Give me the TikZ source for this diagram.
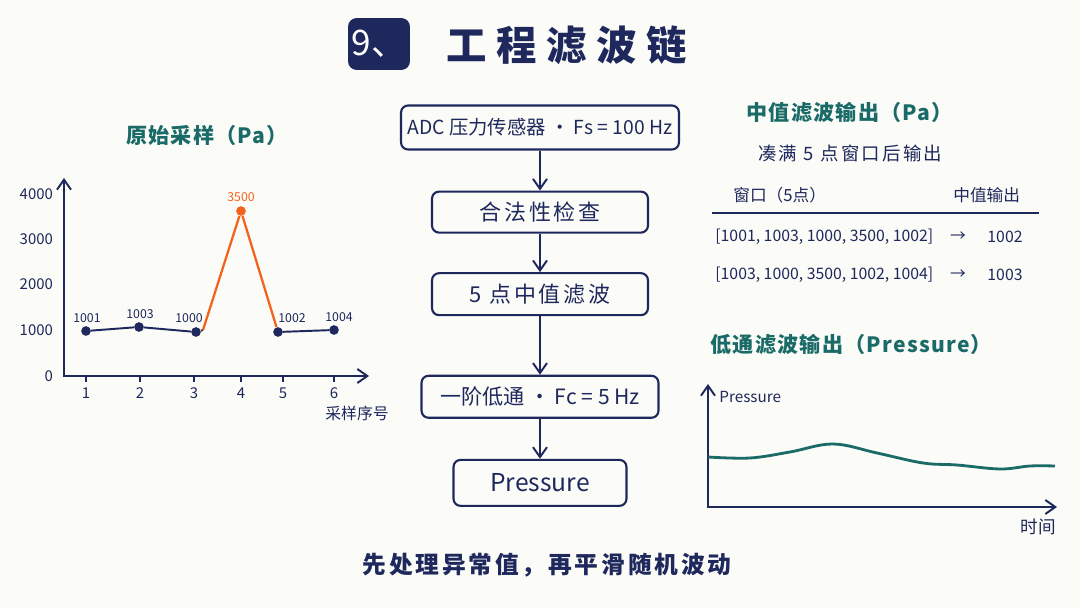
\documentclass[tikz,border=0pt]{standalone}
\usepackage{fontspec}
\setmainfont{Noto Sans CJK SC}
\newfontfamily\spacedfont[LetterSpace=12]{Noto Sans CJK SC}
\newfontfamily\panelfont[LetterSpace=6]{Noto Sans CJK SC}
\newfontfamily\titlefont[LetterSpace=24]{Noto Sans CJK SC}
\usetikzlibrary{arrows.meta, positioning}
\definecolor{cNavy}{RGB}{30,40,92}
\definecolor{cTeal}{RGB}{26,107,104}
\definecolor{cOrange}{RGB}{242,100,30}
\definecolor{cPaper}{RGB}{251,251,248}
\newcommand{\fsz}[1]{\fontsize{#1}{#1}\selectfont}
\tikzset{
	stage/.style    ={rectangle, rounded corners=4pt, draw=cNavy, line width=1.2pt, fill=cPaper, text=cNavy, align=center, inner sep=0pt},
	flowarrow/.style={-{Straight Barb[length=2mm, width=2.8mm]}, line width=1.1pt, cNavy},
	axisline/.style ={{Straight Barb[length=2mm, width=2.8mm]}-{Straight Barb[length=2mm, width=2.8mm]}, line width=1.1pt, cNavy},
	panel/.style    ={font=\panelfont\bfseries\fsz{12}, text=cTeal, anchor=west, inner sep=0pt},
	dot/.style      ={circle, fill=cNavy, inner sep=0pt, minimum size=5.5pt},
	ticklbl/.style  ={font=\fsz{8.5}, text=cNavy, inner sep=1pt},
	ptlbl/.style    ={font=\fsz{7}, text=cNavy, inner sep=0pt},
	cell/.style     ={font=\fsz{9}, text=cNavy, inner sep=0pt},
}

\begin{document}
\begin{tikzpicture}[x=0.02cm, y=-0.02cm]
	\useasboundingbox (0,0) rectangle (1080,608);
	\fill[cPaper] (0,0) rectangle (1080,608);
	% heading
	\node[fill=cNavy, rounded corners=5pt, minimum width=1.24cm, minimum height=1.04cm, text=white, font=\fsz{20}, inner sep=0pt] (num) at (379,44) {9、};
	\node[font=\titlefont\bfseries\fsz{23}, text=cNavy, anchor=west, inner sep=0pt] (title) at (446,45) {工程滤波链};

	% raw samples
	\node[panel, anchor=center] (rawttl) at (207,135) {原始采样（Pa）};
	\coordinate (o1) at (64,376);
	\coordinate (y1top) at (64,178);
	\coordinate (x1end) at (369,376);
	\draw[axisline] (y1top) -- (o1) -- (x1end);
	\foreach \v/\y in {0/376,1000/330,2000/284,3000/239,4000/194}
		\node[ticklbl, anchor=east] (yl\v) at (55,\y) {\v};
	\foreach \i/\x in {1/86,2/140,3/194,4/241,5/283,6/334} {
		\draw[cNavy, line width=1pt] (\x,376) -- ++(0,6);
		\node[ticklbl] (xl\i) at (\x,393) {\i};
	}
	\node[font=\fsz{9}, text=cNavy] (xname1) at (357,413) {采样序号};
	\node[dot] (p1) at (86,331) {};
	\node[dot] (p2) at (139,327) {};
	\node[dot] (p3) at (196,332) {};
	\node[dot, fill=cOrange] (p4) at (241,211) {};
	\node[dot] (p5) at (278,332) {};
	\node[dot] (p6) at (334,330) {};
	\coordinate (k3) at (203,330);
	\draw[cNavy, line width=1.1pt] (p1) -- (p2) -- (p3) -- (k3);
	\draw[cOrange, line width=1.3pt] (k3) -- (p4) -- (p5);
	\draw[cNavy, line width=1.1pt] (p5) -- (p6);
	\node[ptlbl] (l1) at (87,318) {1001};
	\node[ptlbl] (l2) at (140,314) {1003};
	\node[ptlbl] (l3) at (189,318) {1000};
	\node[ptlbl, text=cOrange] (l4) at (241,197) {3500};
	\node[ptlbl] (l5) at (292,318) {1002};
	\node[ptlbl] (l6) at (339,317) {1004};

	% filter chain
	\node[stage, minimum width=5.56cm, minimum height=0.88cm, font=\fsz{11}] (adc) at (540,127.5) {ADC 压力传感器 · Fs = 100 Hz};
	\node[stage, minimum width=4.32cm, minimum height=0.82cm, font=\spacedfont\fsz{12.5}, below=0.8cm of adc] (check) {合法性检查};
	\node[stage, minimum width=4.32cm, minimum height=0.84cm, font=\spacedfont\fsz{12.5}, below=0.77cm of check] (median) {5 点中值滤波};
	\node[stage, minimum width=4.74cm, minimum height=0.84cm, font=\fsz{12}, below=1.17cm of median] (lowpass) {一阶低通 · Fc = 5 Hz};
	\node[stage, minimum width=3.46cm, minimum height=0.92cm, font=\fsz{14}, below=0.8cm of lowpass] (out) {Pressure};
	\draw[flowarrow] (adc) -- (check);
	\draw[flowarrow] (check) -- (median);
	\draw[flowarrow] (median) -- (lowpass);
	\draw[flowarrow] (lowpass) -- (out);

	% median output
	\node[panel] (medttl) at (746,113) {中值滤波输出（Pa）};
	\node[cell, font=\spacedfont\fsz{10.5}, anchor=west] (medsub) at (758,153) {凑满 5 点窗口后输出};
	\node[cell, font=\fsz{9.5}, anchor=west] (hwin) at (733,195) {窗口（5点）};
	\node[cell, font=\fsz{9.5}, anchor=west] (hout) at (953,195) {中值输出};
	\coordinate (rulel) at (712,213);
	\coordinate (ruler) at (1039,213);
	\draw[cNavy, line width=1.6pt] (rulel) -- (ruler);
	\node[cell, anchor=west] (w1) at (715,237) {[1001, 1003, 1000, 3500, 1002]};
	\node[cell] (a1) at (958,237) {→};
	\node[cell] (m1) at (1005,237) {1002};
	\node[cell, anchor=west] (w2) at (715,275) {[1003, 1000, 3500, 1002, 1004]};
	\node[cell] (a2) at (958,275) {→};
	\node[cell] (m2) at (1005,275) {1003};

	% low-pass output
	\node[panel] (lpttl) at (710,345) {低通滤波输出（Pressure）};
	\coordinate (o2) at (708,507);
	\coordinate (y2top) at (708,384);
	\coordinate (x2end) at (1057,507);
	\draw[axisline] (y2top) -- (o2) -- (x2end);
	\node[font=\fsz{8.7}, text=cNavy, anchor=west, inner sep=0pt] (ylab2) at (719,397) {Pressure};
	\node[font=\fsz{10}, text=cNavy] (xlab2) at (1038,527) {时间};
	\draw[cTeal, line width=1.6pt] plot[smooth, tension=0.6] coordinates {(708,457) (750,458) (790,452) (833,444) (877,453) (923,463) (957,465) (1000,469) (1030,466) (1055,466)};

	\node[font=\spacedfont\bfseries\fsz{13.5}, text=cNavy] (caption) at (547,565) {先处理异常值，再平滑随机波动};
\end{tikzpicture}
\end{document}
